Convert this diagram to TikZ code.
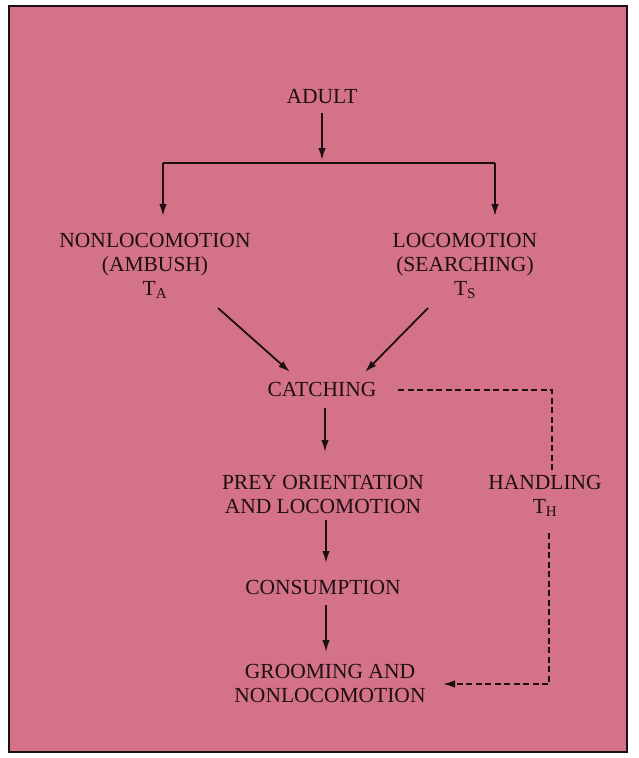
\documentclass[tikz,border=0pt]{standalone}
\usepackage{fontspec}
\setmainfont{Liberation Serif}
\usetikzlibrary{arrows.meta}
\definecolor{bgpink}{RGB}{212,114,136}
\definecolor{ink}{RGB}{30,15,20}
\begin{document}
\begin{tikzpicture}[x=1pt,y=-1pt,
  lbl/.style={text=ink,font=\fontsize{21.5}{24}\selectfont,align=center,inner sep=0pt},
  arr/.style={draw=ink,line width=1.8pt,-{Latex[length=12pt,width=7.5pt]}},
  ln/.style={draw=ink,line width=1.8pt},
  dsh/.style={draw=ink,line width=1.8pt,dash pattern=on 6pt off 3.5pt}]
\useasboundingbox (0,0) rectangle (638,758);
\fill[white] (0,0) rectangle (638,758);
\filldraw[fill=bgpink,draw=ink,line width=1.8pt] (9,6) rectangle (627,752);

\node[lbl] (adult) at (322,97) {ADULT};
\node[lbl] (nonloc) at (155,266) {NONLOCOMOTION\\(AMBUSH)\\T\textsubscript{A}};
\node[lbl] (loc) at (465,266) {LOCOMOTION\\(SEARCHING)\\T\textsubscript{S}};
\node[lbl] (catch) at (322,389) {CATCHING};
\node[lbl] (prey) at (323,494) {PREY ORIENTATION\\AND LOCOMOTION};
\node[lbl] (hand) at (545,496) {HANDLING\\T\textsubscript{H}};
\node[lbl] (cons) at (323,587) {CONSUMPTION};
\node[lbl] (groom) at (330,683) {GROOMING AND\\NONLOCOMOTION};

% top split
\coordinate (a0) at (322,113);
\coordinate (sp) at (322,160);
\coordinate (hl) at (163,163);
\coordinate (hr) at (495,163);
\coordinate (nlt) at (163,216);
\coordinate (lct) at (495,216);
\draw[arr] (a0) -- (sp);
\draw[ln] (hl) -- (hr);
\draw[arr] (hl) -- (nlt);
\draw[arr] (hr) -- (lct);

% diagonals
\coordinate (d1s) at (218,308);
\coordinate (d1e) at (290,372);
\coordinate (d2s) at (428,308);
\coordinate (d2e) at (365,372);
\draw[arr] (d1s) -- (d1e);
\draw[arr] (d2s) -- (d2e);

% vertical chain
\coordinate (c1s) at (325,408);
\coordinate (c1e) at (325,452);
\coordinate (c2s) at (326,520);
\coordinate (c2e) at (326,563);
\coordinate (c3s) at (326,605);
\coordinate (c3e) at (326,652);
\draw[arr] (c1s) -- (c1e);
\draw[arr] (c2s) -- (c2e);
\draw[arr] (c3s) -- (c3e);

% handling loop
\coordinate (h0) at (398,390);
\coordinate (h1) at (552,390);
\coordinate (h2) at (552,470);
\coordinate (h3) at (549,533);
\coordinate (h4) at (549,684);
\coordinate (h5) at (443,684);
\draw[dsh] (h0) -- (h1) -- (h2);
\draw[dsh,-{Latex[length=12pt,width=7.5pt]}] (h3) -- (h4) -- (h5);
\end{tikzpicture}
\end{document}
